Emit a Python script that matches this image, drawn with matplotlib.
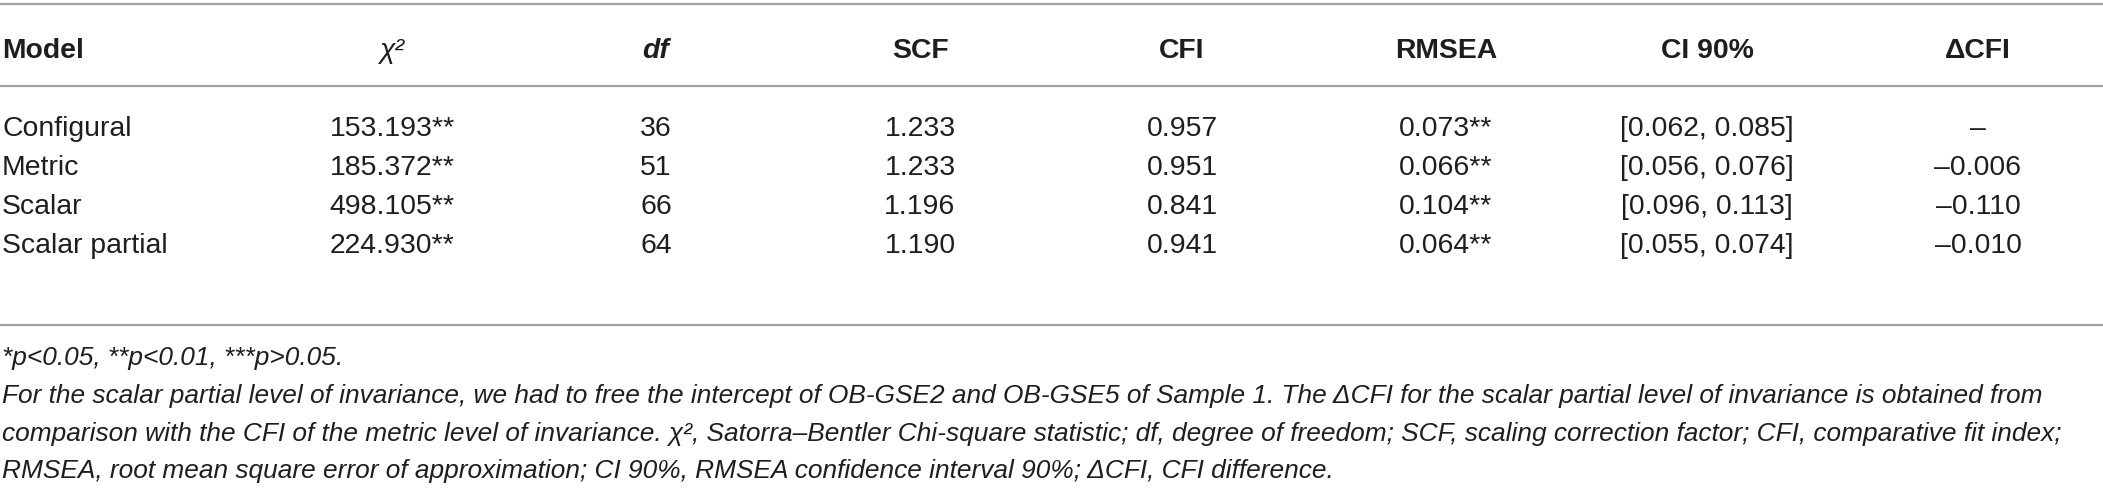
import matplotlib
matplotlib.use("Agg")
import matplotlib.pyplot as plt
from matplotlib.font_manager import FontProperties
from matplotlib.textpath import TextPath

# ---------------- data ----------------
headers = ["Model", "χ²", "df", "SCF", "CFI", "RMSEA", "CI 90%", "ΔCFI"]
models = ["Configural", "Metric", "Scalar", "Scalar partial"]
chi2 = [153.193, 185.372, 498.105, 224.930]
chi2_sig = ["**", "**", "**", "**"]
dfs = [36, 51, 66, 64]
scf = [1.233, 1.233, 1.196, 1.190]
cfi = [0.957, 0.951, 0.841, 0.941]
rmsea = [0.073, 0.066, 0.104, 0.064]
rmsea_sig = ["**", "**", "**", "**"]
ci_low = [0.062, 0.056, 0.096, 0.055]
ci_high = [0.085, 0.076, 0.113, 0.074]
delta_cfi = [None, -0.006, -0.110, -0.010]

footnotes = [
    "*p<0.05, **p<0.01, ***p>0.05.",
    "For the scalar partial level of invariance, we had to free the intercept of OB-GSE2 and OB-GSE5 of Sample 1. "
    "The ΔCFI for the scalar partial level of invariance is obtained from",
    "comparison with the CFI of the metric level of invariance. χ², Satorra–Bentler Chi-square statistic; df, degree "
    "of freedom; SCF, scaling correction factor; CFI, comparative fit index;",
    "RMSEA, root mean square error of approximation; CI 90%, RMSEA confidence interval 90%; ΔCFI, CFI difference.",
]

# ---------------- layout ----------------
W, H = 2103, 496
DPI = 100
FONT = "Liberation Sans"
TXT = "#1e1e1e"
LINE = "#a0a0a0"

fig = plt.figure(figsize=(W / DPI, H / DPI), dpi=DPI)
ax = fig.add_axes([0, 0, 1, 1])
ax.set_xlim(0, W)
ax.set_ylim(H, 0)
ax.axis("off")


def width_px(s, size_pt, style="normal", weight="normal"):
    fp = FontProperties(family=FONT, style=style, weight=weight, size=size_pt)
    tp = TextPath((0, 0), s, prop=fp)
    return tp.get_extents().width * DPI / 72.0


# body size so that "Configural" is ~126 px wide
body_pt = 19.0 * 126.0 / width_px("Configural", 19.0)

# footnote size so that line 2 spans ~2038 px
foot_pt = 15.0 * 2038.0 / width_px(footnotes[1], 15.0, style="italic")

col_x = [2, 392, 656, 920, 1182, 1446, 1707, 1978]
header_base = 58
row_base = [136, 175, 214, 253]
lines_y = [4, 86, 325]
foot_base = [365, 403, 441, 478]

for y in lines_y:
    ax.plot([0, W], [y, y], color=LINE, lw=1.6, solid_capstyle="butt")

# headers
for i, h in enumerate(headers):
    style = "italic" if h in ("χ²", "df") else "normal"
    weight = "normal" if h == "χ²" else "bold"
    ax.text(col_x[i], header_base, h, ha="left" if i == 0 else "center",
            va="baseline", fontsize=body_pt, family=FONT, fontstyle=style,
            fontweight=weight, color=TXT)


def fmt_neg(v):
    if v is None:
        return "\u2013"
    s = f"{abs(v):.3f}"
    return ("\u2013" + s) if v < 0 else s


for r in range(len(models)):
    cells = [
        models[r],
        f"{chi2[r]:.3f}{chi2_sig[r]}",
        f"{dfs[r]}",
        f"{scf[r]:.3f}",
        f"{cfi[r]:.3f}",
        f"{rmsea[r]:.3f}{rmsea_sig[r]}",
        f"[{ci_low[r]:.3f}, {ci_high[r]:.3f}]",
        fmt_neg(delta_cfi[r]),
    ]
    for i, c in enumerate(cells):
        ax.text(col_x[i], row_base[r], c, ha="left" if i == 0 else "center",
                va="baseline", fontsize=body_pt, family=FONT, color=TXT)

for j, f in enumerate(footnotes):
    ax.text(2, foot_base[j], f, ha="left", va="baseline", fontsize=foot_pt,
            family=FONT, fontstyle="italic", color=TXT)

fig.savefig("out.png", dpi=DPI)
